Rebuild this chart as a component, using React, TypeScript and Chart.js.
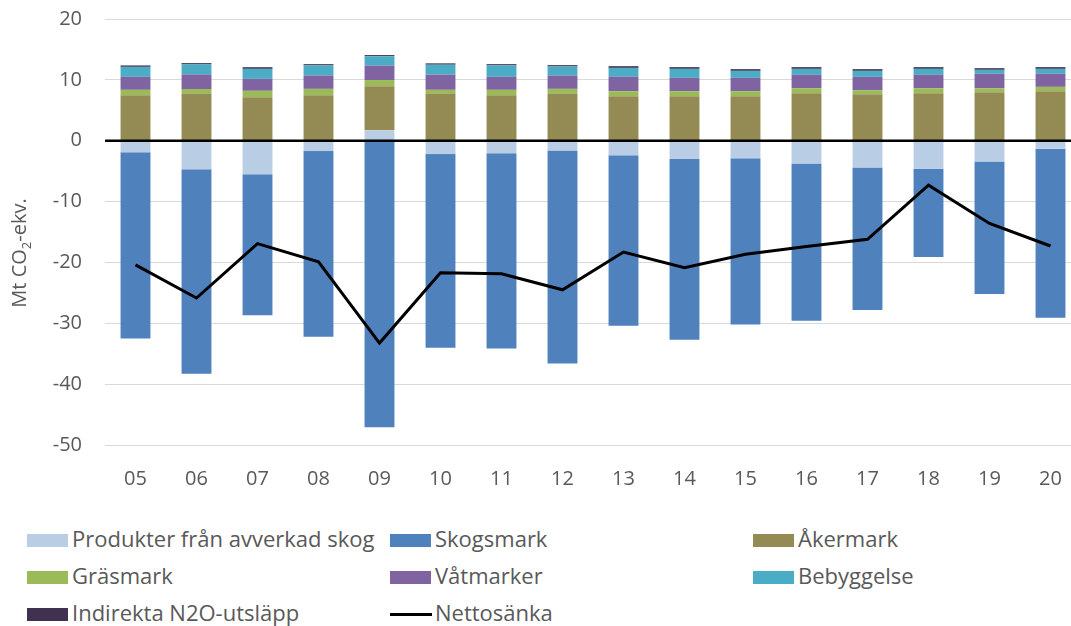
import React, { useEffect, useRef } from "react";
import { Chart, registerables } from "chart.js";

Chart.register(...registerables);

const years = ["05", "06", "07", "08", "09", "10", "11", "12", "13", "14", "15", "16", "17", "18", "19", "20"];
const produkter = [-1.9, -4.7, -5.5, -1.7, 1.7, -2.2, -2.05, -1.6, -2.4, -3.0, -2.9, -3.75, -4.4, -4.6, -3.4, -1.3];
const skogsmark = [-30.6, -33.6, -23.2, -30.5, -47.1, -31.8, -32.1, -35.0, -28.0, -29.7, -27.3, -25.85, -23.4, -14.5, -21.8, -27.8];
const akermark = [7.48, 7.7, 7.15, 7.48, 7.27, 7.7, 7.48, 7.7, 7.32, 7.32, 7.32, 7.81, 7.65, 7.81, 7.98, 8.14];
const grasmark = [0.88, 0.8, 1.05, 1.04, 1.0, 0.66, 0.88, 0.82, 0.82, 0.82, 0.82, 0.82, 0.65, 0.82, 0.65, 0.71];
const vatmarker = [2.14, 2.4, 1.97, 2.2, 2.37, 2.5, 2.14, 2.2, 2.36, 2.19, 2.19, 2.2, 2.2, 2.2, 2.37, 2.15];
const bebyggelse = [1.64, 1.63, 1.64, 1.65, 1.53, 1.63, 1.87, 1.48, 1.47, 1.48, 1.15, 0.98, 0.98, 0.98, 0.65, 0.81];
const indirekta = [0.23, 0.22, 0.27, 0.21, 0.2, 0.22, 0.21, 0.22, 0.28, 0.28, 0.28, 0.28, 0.28, 0.28, 0.27, 0.28];
const netto = [-20.4, -25.85, -16.9, -19.9, -33.25, -21.7, -21.85, -24.5, -18.3, -20.85, -18.65, -17.4, -16.2, -7.3, -13.6, -17.3];

const seriesNames = [
  "Produkter från avverkad skog",
  "Skogsmark",
  "Åkermark",
  "Gräsmark",
  "Våtmarker",
  "Bebyggelse",
  "Indirekta N2O-utsläpp",
  "Nettosänka",
];
const seriesColors = ["#B9CDE5", "#4F81BD", "#948A54", "#9BBB59", "#8064A2", "#4BACC6", "#403151", "#000000"];

const FONT = "'Open Sans', 'DejaVu Sans', sans-serif";
const TEXT = "#595959";

const zeroLinePlugin = {
  id: "zeroLine",
  afterDatasetsDraw(chart: any) {
    const y = chart.scales.y.getPixelForValue(0);
    const { left, right } = chart.chartArea;
    const ctx = chart.ctx;
    ctx.save();
    ctx.strokeStyle = "#000000";
    ctx.lineWidth = 2.5;
    ctx.beginPath();
    ctx.moveTo(left, y);
    ctx.lineTo(right, y);
    ctx.stroke();
    ctx.restore();
  },
};

const axisTitlePlugin = {
  id: "axisTitle",
  afterDraw(chart: any) {
    const ctx = chart.ctx;
    const parts = [
      { t: "Mt CO", size: 20, dy: 0 },
      { t: "2", size: 13, dy: 5 },
      { t: "-ekv.", size: 20, dy: 0 },
    ];
    ctx.save();
    let total = 0;
    for (const p of parts) {
      ctx.font = `${p.size}px ${FONT}`;
      total += ctx.measureText(p.t).width;
    }
    ctx.translate(26, 253);
    ctx.rotate(-Math.PI / 2);
    ctx.fillStyle = TEXT;
    ctx.textBaseline = "alphabetic";
    ctx.textAlign = "left";
    let x = -total / 2;
    for (const p of parts) {
      ctx.font = `${p.size}px ${FONT}`;
      ctx.fillText(p.t, x, p.dy);
      x += ctx.measureText(p.t).width;
    }
    ctx.restore();
  },
};

function ChartCanvas() {
  const ref = useRef<HTMLCanvasElement | null>(null);
  useEffect(() => {
    if (!ref.current) return;
    const barData = [produkter, skogsmark, akermark, grasmark, vatmarker, bebyggelse, indirekta];
    const datasets: any[] = barData.map((d, i) => ({
      type: "bar",
      label: seriesNames[i],
      data: d,
      backgroundColor: seriesColors[i],
      borderWidth: 0,
      barPercentage: 0.49,
      categoryPercentage: 1,
      order: 2,
    }));
    datasets.push({
      type: "line",
      label: seriesNames[7],
      data: netto,
      borderColor: seriesColors[7],
      backgroundColor: seriesColors[7],
      borderWidth: 3,
      pointRadius: 0,
      tension: 0,
      stack: "net",
      order: 0,
    });
    const chart = new Chart(ref.current, {
      type: "bar",
      data: { labels: years, datasets },
      plugins: [zeroLinePlugin, axisTitlePlugin],
      options: {
        responsive: false,
        animation: false,
        layout: { padding: { top: 19, right: 10, left: 0, bottom: 0 } },
        plugins: { legend: { display: false }, tooltip: { enabled: false } },
        scales: {
          x: {
            stacked: true,
            offset: true,
            grid: { display: false, drawTicks: false },
            border: { display: false },
            ticks: { color: TEXT, font: { family: FONT, size: 20 }, padding: 22 },
            afterFit: (s: any) => {
              s.height = 55;
              s.paddingLeft = 0;
              s.paddingRight = 0;
            },
          },
          y: {
            stacked: true,
            min: -50,
            max: 20,
            grid: { color: "#D9D9D9", lineWidth: 1, drawTicks: false },
            border: { display: false },
            ticks: { stepSize: 10, color: TEXT, font: { family: FONT, size: 20 }, padding: 23 },
            afterFit: (s: any) => {
              s.width = 105;
              s.paddingTop = 0;
              s.paddingBottom = 0;
            },
          },
        },
      },
    } as any);
    return () => chart.destroy();
  }, []);
  return <canvas ref={ref} width={1091} height={500} style={{ position: "absolute", left: 0, top: 0 }} />;
}

const legendCols = [27, 390, 753];
const legendBaselines = [546.5, 583.5, 620.5];

export default function App() {
  return (
    <div style={{ position: "fixed", left: 0, top: 0, width: 1071, height: 626, overflow: "hidden", background: "#fff" }}>
      <ChartCanvas />
      {seriesNames.map((name, i) => {
        const col = i % 3;
        const row = Math.floor(i / 3);
        const x = legendCols[col];
        const base = legendBaselines[row];
        const isLine = i === 7;
        return (
          <div key={name}>
            {isLine ? (
              <div style={{ position: "absolute", left: x, top: base - 8, width: 42, height: 3, background: seriesColors[i] }} />
            ) : (
              <div style={{ position: "absolute", left: x, top: base - 13, width: 41, height: 13, background: seriesColors[i] }} />
            )}
            <div
              style={{
                position: "absolute",
                left: x + 45,
                top: base - 23.5,
                height: 30,
                lineHeight: "30px",
                fontFamily: FONT,
                fontSize: 22,
                color: TEXT,
                whiteSpace: "nowrap",
              }}
            >
              {name}
            </div>
          </div>
        );
      })}
    </div>
  );
}
